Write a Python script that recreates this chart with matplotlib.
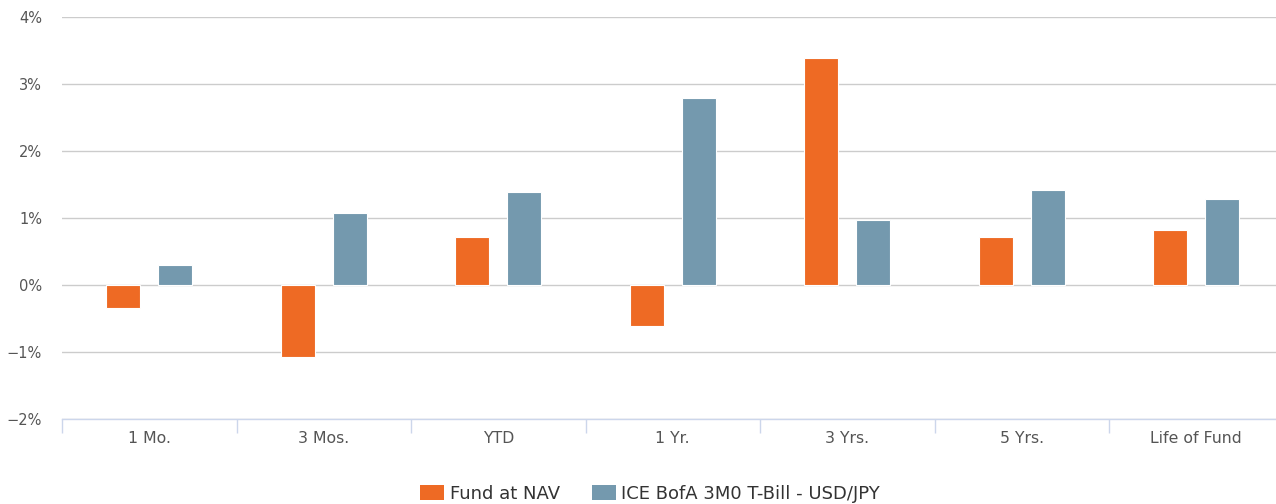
import matplotlib
matplotlib.use("Agg")
import matplotlib.pyplot as plt
from matplotlib.patches import Patch
import numpy as np

categories = ["1 Mo.", "3 Mos.", "YTD", "1 Yr.", "3 Yrs.", "5 Yrs.", "Life of Fund"]
fund_nav = [-0.34, -1.07, 0.72, -0.61, 3.39, 0.72, 0.82]
benchmark = [0.30, 1.07, 1.39, 2.79, 0.97, 1.42, 1.28]
series_names = ["Fund at NAV", "ICE BofA 3M0 T-Bill - USD/JPY"]
y_ticks = [-2, -1, 0, 1, 2, 3, 4]

orange = "#EE6A24"
blue = "#7499AE"
text_color = "#555555"

plt.rcParams["font.family"] = ["DejaVu Sans"]

fig = plt.figure(figsize=(12.76, 5.04), dpi=100)
ax = fig.add_axes([62/1276, 85/504, 1221.5/1276, 402/504])

x = np.arange(len(categories))
w = 0.195
off = 0.149
ax.bar(x - off, fund_nav, w, color=orange, edgecolor="white", linewidth=0.8, zorder=3)
ax.bar(x + off, benchmark, w, color=blue, edgecolor="white", linewidth=0.8, zorder=3)

ax.set_xlim(-0.5, 6.5)
ax.set_ylim(-2, 4)
ax.set_yticks(y_ticks)
ax.set_yticklabels([("\u2212" if v < 0 else "") + f"{abs(v)}%" for v in y_ticks])
ax.yaxis.grid(True, color="#cccccc", linewidth=1, zorder=0)
ax.tick_params(axis="y", length=0, pad=14.4, labelsize=10.5, labelcolor=text_color)

ax.set_xticks(x)
ax.set_xticklabels(categories)
ax.tick_params(axis="x", length=0, pad=8.5, labelsize=11.3, labelcolor=text_color)
ax.set_xticks(np.arange(-0.5, 7.0, 1.0), minor=True)
ax.tick_params(axis="x", which="minor", length=10, color="#ccd6eb", width=1)

for s in ["top", "right", "left"]:
    ax.spines[s].set_visible(False)
ax.spines["bottom"].set_color("#ccd6eb")
ax.spines["bottom"].set_linewidth(1)

handles = [Patch(facecolor=orange, edgecolor="none"), Patch(facecolor=blue, edgecolor="none")]
fig.legend(handles, series_names, loc="lower center", bbox_to_anchor=(650/1276, -0.03),
           ncol=2, frameon=False, fontsize=13, handlelength=1.33, handleheight=0.94,
           columnspacing=1.77, handletextpad=0.3, labelcolor="#333333")

fig.savefig("out.png", dpi=100)
